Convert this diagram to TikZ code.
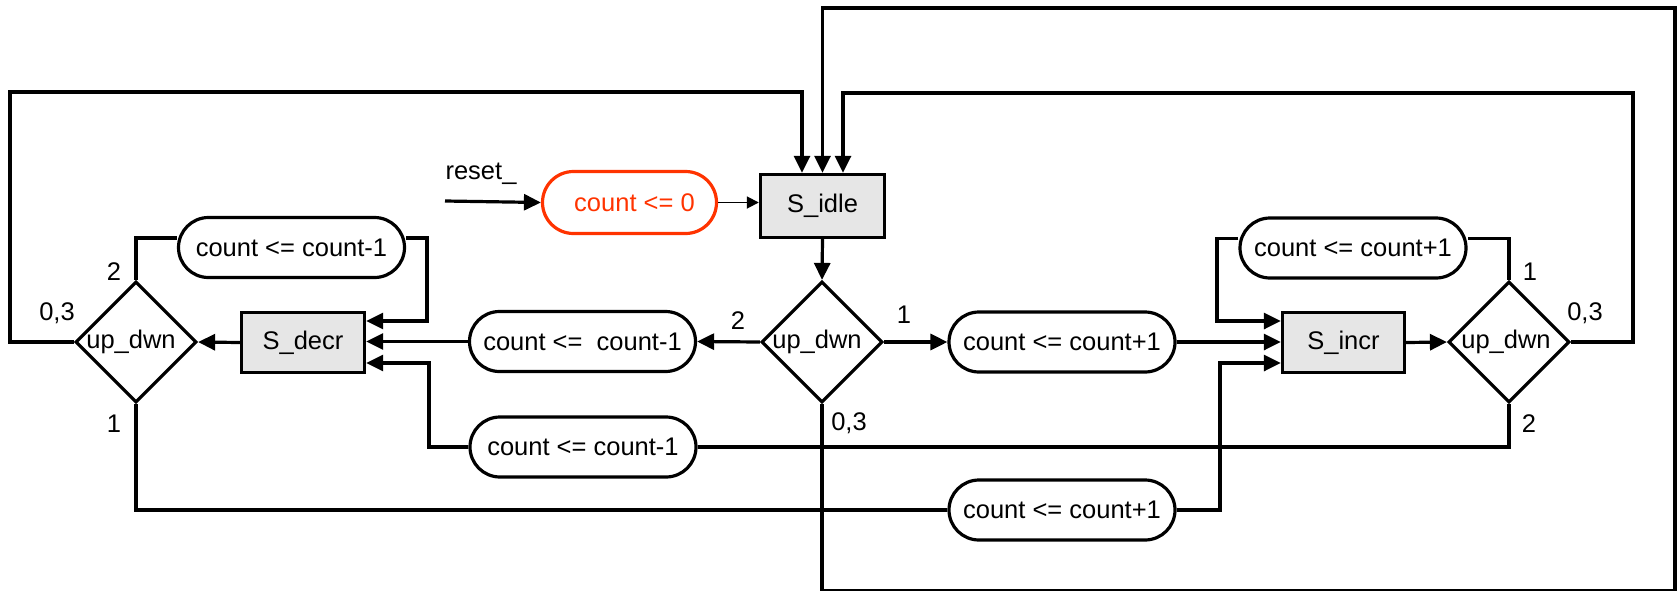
\documentclass[tikz,border=0pt]{standalone}
\usepackage{fontspec}
\setmainfont{Liberation Sans}
\usetikzlibrary{shapes.geometric,arrows.meta}
\definecolor{redo}{HTML}{FF3300}
\definecolor{boxg}{HTML}{E6E6E6}
\begin{document}
\begin{tikzpicture}[x=1pt,y=-1pt, font=\fontsize{25.5}{30}\selectfont,
 conn/.style={line width=3.2pt},
 arr/.style={conn,-{Triangle[length=17pt,width=16pt]}},
 pill/.style={draw,line width=3.2pt,rounded corners=30pt,minimum width=226pt,minimum height=60pt,inner sep=0pt},
 statebox/.style={draw,line width=3.4pt,fill=boxg,minimum width=123pt,minimum height=60pt,inner sep=0pt},
 dec/.style={diamond,draw,line width=3.2pt,minimum width=121pt,minimum height=121pt,inner sep=0pt,aspect=1},
 lbl/.style={inner sep=0pt}]
\useasboundingbox (0,0) rectangle (1679,590);

% states
\node[statebox,minimum width=124pt,minimum height=63pt] (SIdle) at (822.5,206) {S\_idle\hspace{7pt}};
\node[statebox] (SD) at (303,342.5) {S\_decr\hspace{6pt}};
\node[statebox,minimum width=122pt] (SI) at (1343.5,342.5) {S\_incr\hspace{4pt}};

% decisions
\node[dec,label={[lbl,xshift=-5pt]center:up\_dwn}] (LD) at (136,342) {};
\node[dec,label={[lbl,xshift=-5pt]center:up\_dwn}] (CD) at (822,342) {};
\node[dec,label={[lbl,xshift=-3pt]center:up\_dwn}] (RD) at (1509,342) {};

% actions
\node[pill,draw=redo,text=redo,minimum width=174pt,minimum height=62pt,rounded corners=31pt] (Red) at (629.5,202.5) {\hspace{10pt}count <= 0};
\node[pill] (PTL) at (291.5,247.5) {count <= count-1\hspace{13pt}};
\node[pill] (PL) at (582.5,341.5) {count <=\ \ count-1\hspace{10pt}};
\node[pill] (PLL) at (583,447) {count <= count-1\hspace{12pt}};
\node[pill] (PR) at (1062,342) {count <= count+1\hspace{10pt}};
\node[pill] (PTR) at (1353,248) {count <= count+1\hspace{12pt}};
\node[pill] (PB) at (1062,510) {count <= count+1\hspace{15pt}};

% reset
\node[lbl] (rst) at (481,174) {reset\_};
\coordinate (rs0) at (445,201);
\draw[arr] (rs0) -- (Red.west);
\draw[line width=1.8pt,-{Triangle[length=12pt,width=12pt]}] (Red.east) -- (SIdle.west |- Red.east);

% main flow
\draw[arr] (SIdle.south) -- (CD.north);
\draw[arr] (CD.west) -- (PL.east);
\draw[arr] (CD.east) -- (PR.west);
\draw[arr] (PL.west) -- (SD.east |- PL.west);
\draw[arr] (PR.east) -- (SI.west |- PR.east);
\draw[arr] (SD.west) -- (LD.east);
\draw[arr] (SI.east) -- (RD.west);

% left decision branches
\draw[conn] (LD.north) |- ([yshift=9.5pt]PTL.west);
\draw[arr] ([yshift=9.5pt]PTL.east) -| (427,321) -- (SD.east |- 427,321);
\draw[conn] (LD.south) |- (PB.west);
\draw[arr] (PB.east) -| (1220,363) -- (SI.west |- 1220,363);

% right decision branches
\draw[conn] (RD.north) |- ([yshift=9.5pt]PTR.east);
\draw[arr] ([yshift=9.5pt]PTR.west) -| (1217,321) -- (SI.west |- 1217,321);
\draw[conn] (RD.south) |- (PLL.east);
\draw[arr] (PLL.west) -| (429,363) -- (SD.east |- 429,363);

% loops back to S_idle
\draw[arr] (LD.west) -| (10,92) -| (SIdle.north -| 802,0);
\draw[arr] (RD.east) -| (1633,93) -| (SIdle.north -| 843,0);
\draw[arr] (CD.south) -- (CD.south |- 0,590.5) -| (1675,8) -| (SIdle.north);

% branch labels
\node[lbl] (l1) at (114,272) {2};
\node[lbl] (l2) at (57,313) {0,3};
\node[lbl] (l3) at (114,424) {1};
\node[lbl] (l4) at (738,321) {2};
\node[lbl] (l5) at (904,315) {1};
\node[lbl] (l6) at (849,423) {0,3};
\node[lbl] (l7) at (1530,272) {1};
\node[lbl] (l8) at (1585,313) {0,3};
\node[lbl] (l9) at (1529,424) {2};
\end{tikzpicture}
\end{document}
